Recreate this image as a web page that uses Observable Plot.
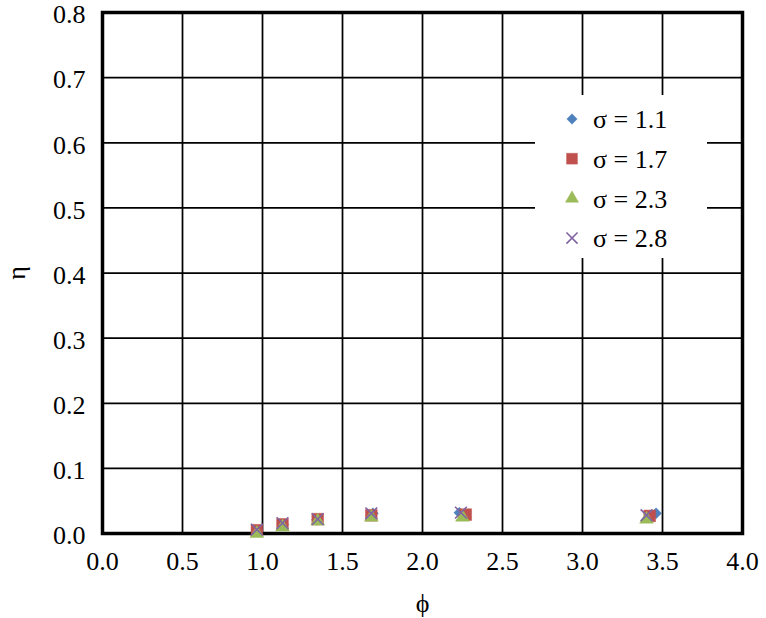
<!DOCTYPE html>
<html><head><meta charset="utf-8">
<script src="https://cdn.jsdelivr.net/npm/d3@7"></script>
<script src="https://cdn.jsdelivr.net/npm/@observablehq/plot@0.6"></script>
<style>
body{margin:0;background:#fff;}
#wrap{position:relative;width:766px;height:618px;}
#legend{position:absolute;left:535px;top:95px;width:172px;height:163px;background:#fff;}
svg text{font-family:"Liberation Serif","DejaVu Serif",serif !important;}
</style></head><body><div id="wrap"></div>
<script>
const seriesNames = ["σ = 1.1", "σ = 1.7", "σ = 2.3", "σ = 2.8"];
const seriesColors = ["#4F81BD", "#C0504D", "#9BBB59", "#8064A2"];
const seriesSymbols = ["diamond2", "square", "triangle", "times"];

const phi11 = [0.97, 1.13, 1.34, 1.69, 2.23, 3.46];
const eta11 = [0.004, 0.014, 0.021, 0.031, 0.032, 0.031];
const phi17 = [0.965, 1.125, 1.345, 1.68, 2.27, 3.42];
const eta17 = [0.005, 0.014, 0.022, 0.028, 0.029, 0.027];
const phi23 = [0.965, 1.125, 1.345, 1.68, 2.25, 3.40];
const eta23 = [0.0, 0.010, 0.019, 0.025, 0.025, 0.022];
const phi28 = [0.965, 1.125, 1.345, 1.68, 2.24, 3.40];
const eta28 = [0.006, 0.016, 0.022, 0.031, 0.032, 0.028];

const xTicks = [0, 0.5, 1, 1.5, 2, 2.5, 3, 3.5, 4];
const yTicks = [0, 0.1, 0.2, 0.3, 0.4, 0.5, 0.6, 0.7, 0.8];

const phis = [phi11, phi17, phi23, phi28];
const etas = [eta11, eta17, eta23, eta28];
const data = seriesNames.map((s, i) => phis[i].map((p, j) => ({series: s, phi: p, eta: etas[i][j]})));

const symbolR = [4.9, 6.6, 5.1, 5.4];

const font = '"Liberation Serif", "DejaVu Serif", serif';
const fs = 26;

const chart = Plot.plot({
  width: 766,
  height: 618,
  marginLeft: 102,
  marginTop: 12,
  marginRight: 24,
  marginBottom: 85,
  style: {fontFamily: font, fontSize: fs + "px", color: "black", background: "white"},
  x: {domain: [0, 4]},
  y: {domain: [0, 0.8]},
  marks: [
    Plot.gridX(xTicks, {stroke: "black", strokeOpacity: 1, strokeWidth: 1.75}),
    Plot.gridY(yTicks, {stroke: "black", strokeOpacity: 1, strokeWidth: 1.75}),
    Plot.axisX(xTicks, {tickSize: 0, tickPadding: 18, tickFormat: d3.format(".1f"), fontSize: fs,
      label: "ϕ", labelAnchor: "center", labelArrow: "none", labelOffset: 78}),
    Plot.axisY(yTicks, {tickSize: 0, tickPadding: 17, tickFormat: d3.format(".1f"), fontSize: fs, dy: 2.5,
      label: null}),
    Plot.axisY({tickSize: 0, ticks: [], label: "η", labelAnchor: "center", labelArrow: "none", labelOffset: 96, fontSize: fs}),
    Plot.frame({stroke: "black", strokeWidth: 3.5}),
    ...data.map((d, i) => Plot.dot(d, {
      x: "phi", y: "eta", symbol: () => seriesSymbols[i], r: symbolR[i],
      fill: seriesSymbols[i] === "times" ? "none" : seriesColors[i],
      stroke: seriesColors[i], strokeWidth: seriesSymbols[i] === "times" ? 1.6 : 0.5
    }))
  ]
});

const wrap = document.getElementById("wrap");
wrap.appendChild(chart);

// legend
const legend = document.createElement("div");
legend.id = "legend";
wrap.appendChild(legend);
const lsvg = d3.select(legend).append("svg").attr("width", 172).attr("height", 163);
const symMap = {diamond2: d3.symbolDiamond2, square: d3.symbolSquare, triangle: d3.symbolTriangle, times: d3.symbolTimes};
seriesNames.forEach((name, i) => {
  const cy = 24 + i * 39.7;
  const sym = seriesSymbols[i];
  lsvg.append("path")
    .attr("transform", `translate(37,${cy})`)
    .attr("d", d3.symbol(symMap[sym], Math.PI * symbolR[i] * symbolR[i] * (sym === "square" ? 0.85 : 0.9))())
    .attr("fill", sym === "times" ? "none" : seriesColors[i])
    .attr("stroke", seriesColors[i])
    .attr("stroke-width", sym === "times" ? 1.6 : 0.5);
  lsvg.append("text")
    .attr("x", 58).attr("y", cy).attr("dy", "0.35em")
    .attr("font-size", fs).attr("fill", "black")
    .style("font-family", font)
    .text(name);
});
</script></body></html>
